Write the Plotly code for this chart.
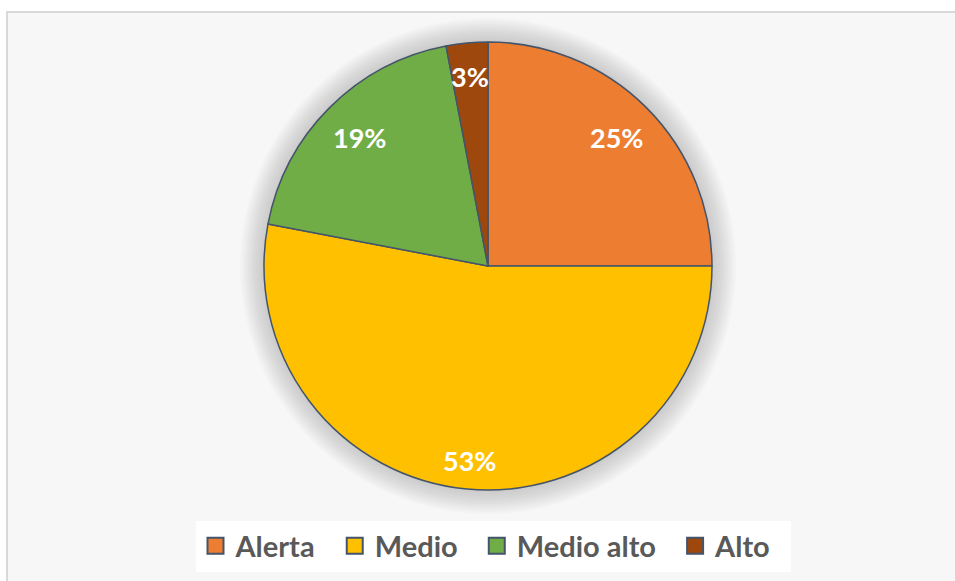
import math
import plotly.graph_objects as go

categories = ["Alerta", "Medio", "Medio alto", "Alto"]
values = [25, 53, 19, 3]
colors = ["#ED7D31", "#FFC000", "#70AD47", "#9E480E"]

W, H = 955, 581
CX, CY, R = 488, 266, 224  # pie centre / radius in pixels
LABEL_R = [0.81, 0.87, 0.81, 0.85]  # label distance from centre (fraction of radius)

fig = go.Figure()

fig.add_trace(go.Pie(
    labels=categories,
    values=values,
    sort=False,
    direction="clockwise",
    rotation=0,
    marker=dict(colors=colors, line=dict(color="#44546A", width=1.5)),
    textinfo="none",
    hoverinfo="label+percent",
    domain=dict(x=[(CX - R) / W, (CX + R) / W], y=[1 - (CY + R) / H, 1 - (CY - R) / H]),
    showlegend=False,
))

# legend entries (square swatches with dark outline)
for name, col in zip(categories, colors):
    fig.add_trace(go.Scatter(
        x=[None], y=[None], mode="markers", name=name + "  ",
        marker=dict(symbol="square", size=16, color=col, line=dict(color="#44546A", width=2)),
        showlegend=True,
    ))

shapes = []
# chart area with border
shapes.append(dict(type="rect", xref="paper", yref="paper",
                   x0=7 / W, x1=1.02, y0=-0.02, y1=1 - 12 / H,
                   fillcolor="#F7F7F7", line=dict(color="#D9D9D9", width=2), layer="below"))
# soft glow behind the pie
for k in range(12):
    rr = R + 24 - k * 2
    shapes.append(dict(type="circle", xref="paper", yref="paper",
                       x0=(CX - rr) / W, x1=(CX + rr) / W,
                       y0=1 - (CY + rr) / H, y1=1 - (CY - rr) / H,
                       fillcolor="rgba(120,120,120,0.028)", line=dict(width=0), layer="below"))

# percentage labels placed from the data values
total = sum(values)
annotations = []
cum = 0
for v, lr in zip(values, LABEL_R):
    mid = (cum + v / 2) / total
    cum += v
    th = 2 * math.pi * mid
    rf = lr * R
    px = CX + rf * math.sin(th)
    py = CY - rf * math.cos(th)
    annotations.append(dict(x=px / W, y=1 - py / H, xref="paper", yref="paper",
                            text=f"<b>{round(v / total * 100)}%</b>", showarrow=False,
                            font=dict(family="Lato", size=27, color="white"),
                            xanchor="center", yanchor="middle", yshift=0))

fig.update_layout(
    width=W, height=H,
    margin=dict(l=0, r=0, t=0, b=0),
    paper_bgcolor="white",
    plot_bgcolor="rgba(0,0,0,0)",
    xaxis=dict(visible=False, range=[0, 1], fixedrange=True),
    yaxis=dict(visible=False, range=[0, 1], fixedrange=True),
    shapes=shapes,
    annotations=annotations,
    legend=dict(orientation="h", x=493 / W, xanchor="center", y=1 - 546 / H, yanchor="middle",
                bgcolor="white", font=dict(family="Lato", size=29, color="#595959", weight="bold"),
                itemsizing="trace", traceorder="normal", borderwidth=0,
                itemwidth=30),
)

fig.write_html("out.html", config={"displayModeBar": False},
               post_script="document.body.style.margin='0px';document.body.style.padding='0px';")
